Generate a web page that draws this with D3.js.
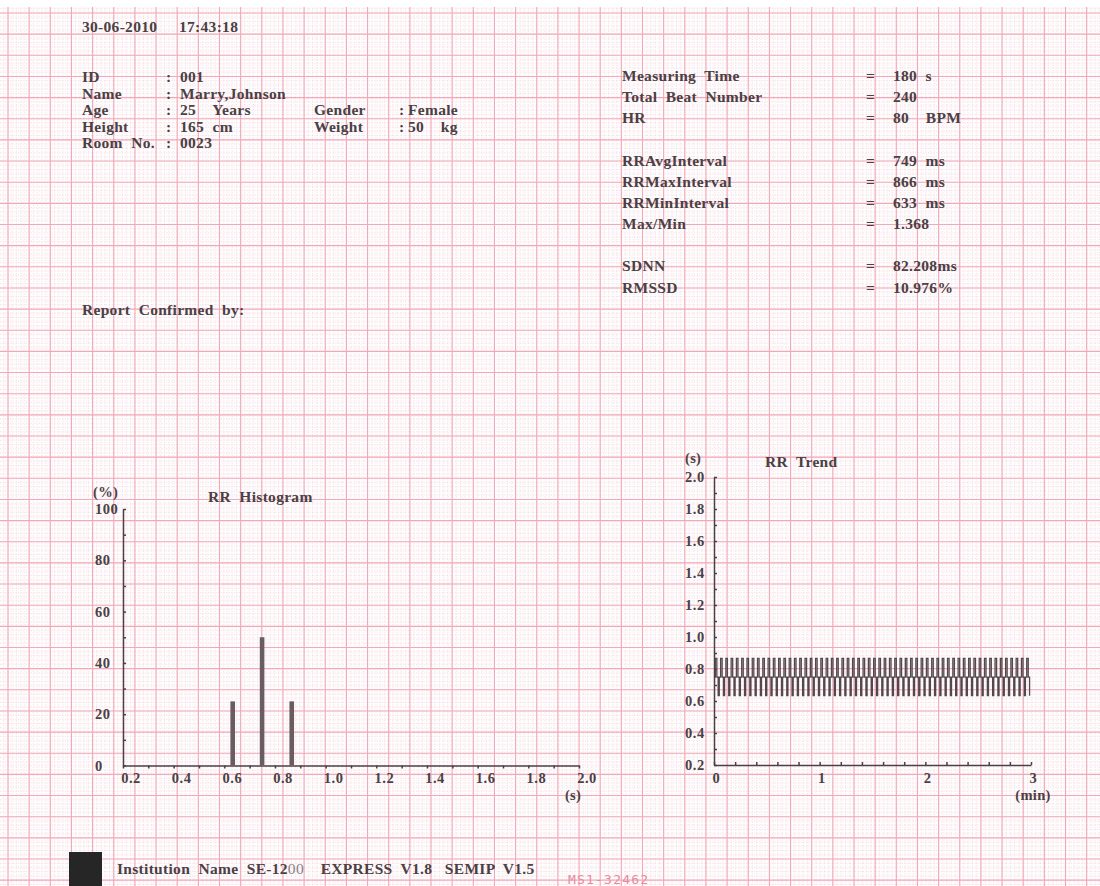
<!DOCTYPE html>
<html>
<head>
<meta charset="utf-8">
<script src="https://cdn.jsdelivr.net/npm/d3@7"></script>
<style>
  body { margin: 0; background: #fff; }
  text { font-family: "Liberation Serif", "Times New Roman", serif; font-weight: bold; fill: #4b4044; white-space: pre; }
</style>
</head>
<body>
<div id="chart"></div>
<script>
// report header
var reportDate = "30-06-2010",
    reportTime = "17:43:18";

var infoLabels = ["ID", "Name", "Age", "Height", "Room  No."],
    infoValues = ["001", "Marry,Johnson", "25    Years", "165  cm", "0023"];

var sideLabels = ["Gender", "Weight"],
    sideValues = ["Female", "50    kg"];

// statistics block (row index leaves gaps between groups)
var statRows = [0, 1, 2, 4, 5, 6, 7, 9, 10],
    statLabels = ["Measuring  Time", "Total  Beat  Number", "HR", "RRAvgInterval", "RRMaxInterval",
                  "RRMinInterval", "Max/Min", "SDNN", "RMSSD"],
    statValues = ["180  s", "240", "80    BPM", "749  ms", "866  ms", "633  ms", "1.368", "82.208ms", "10.976%"];

// RR histogram
var histBins = [0.633, 0.749, 0.866],      // s
    histPercent = [25, 50, 25],
    histXTicks = [0.2, 0.4, 0.6, 0.8, 1.0, 1.2, 1.4, 1.6, 1.8, 2.0],
    histYTicks = [0, 20, 40, 60, 80, 100];

// RR trend, intervals in ms (240 beats)
var rrIntervals = [
    749, 866, 749, 633, 749, 866, 749, 633, 749, 866, 749, 633,
    749, 866, 749, 633, 749, 866, 749, 633, 749, 866, 749, 633,
    749, 866, 749, 633, 749, 866, 749, 633, 749, 866, 749, 633,
    749, 866, 749, 633, 749, 866, 749, 633, 749, 866, 749, 633,
    749, 866, 749, 633, 749, 866, 749, 633, 749, 866, 749, 633,
    749, 866, 749, 633, 749, 866, 749, 633, 749, 866, 749, 633,
    749, 866, 749, 633, 749, 866, 749, 633, 749, 866, 749, 633,
    749, 866, 749, 633, 749, 866, 749, 633, 749, 866, 749, 633,
    749, 866, 749, 633, 749, 866, 749, 633, 749, 866, 749, 633,
    749, 866, 749, 633, 749, 866, 749, 633, 749, 866, 749, 633,
    749, 866, 749, 633, 749, 866, 749, 633, 749, 866, 749, 633,
    749, 866, 749, 633, 749, 866, 749, 633, 749, 866, 749, 633,
    749, 866, 749, 633, 749, 866, 749, 633, 749, 866, 749, 633,
    749, 866, 749, 633, 749, 866, 749, 633, 749, 866, 749, 633,
    749, 866, 749, 633, 749, 866, 749, 633, 749, 866, 749, 633,
    749, 866, 749, 633, 749, 866, 749, 633, 749, 866, 749, 633,
    749, 866, 749, 633, 749, 866, 749, 633, 749, 866, 749, 633,
    749, 866, 749, 633, 749, 866, 749, 633, 749, 866, 749, 633,
    749, 866, 749, 633, 749, 866, 749, 633, 749, 866, 749, 633,
    749, 866, 749, 633, 749, 866, 749, 633, 749, 866, 749, 633
];
var trendXTicks = [0, 1, 2, 3],
    trendYTicks = [0.2, 0.4, 0.6, 0.8, 1.0, 1.2, 1.4, 1.6, 1.8, 2.0];

var w = 1100,
    h = 886,
    ink = "#4b4044";

var svg = d3.select("#chart").append("svg")
    .attr("width", w)
    .attr("height", h);

// ---- ECG paper grid ----
var major = 21.15, minor = major / 5;
var grid = svg.append("g");
grid.append("rect").attr("width", w).attr("height", h).attr("fill", "#fefcfd");

var vMinor = d3.range(8 - major, w, minor),
    hMinor = d3.range(13 - major, h, minor);
grid.selectAll("line.vm").data(vMinor).enter().append("line")
    .attr("x1", function (d) { return d; }).attr("x2", function (d) { return d; })
    .attr("y1", 0).attr("y2", h)
    .attr("stroke", "#e9c2cb").attr("stroke-width", 0.6)
    .attr("stroke-dasharray", "0.8,1.8");
grid.selectAll("line.hm").data(hMinor).enter().append("line")
    .attr("y1", function (d) { return d; }).attr("y2", function (d) { return d; })
    .attr("x1", 0).attr("x2", w)
    .attr("stroke", "#e9c2cb").attr("stroke-width", 0.6)
    .attr("stroke-dasharray", "0.8,1.8");

grid.selectAll("line.vM").data(d3.range(8, w, major)).enter().append("line")
    .attr("x1", function (d) { return d; }).attr("x2", function (d) { return d; })
    .attr("y1", 0).attr("y2", h)
    .attr("stroke", "#f2a8b6").attr("stroke-width", 1.1);
grid.selectAll("line.hM").data(d3.range(13, h, major)).enter().append("line")
    .attr("y1", function (d) { return d; }).attr("y2", function (d) { return d; })
    .attr("x1", 0).attr("x2", w)
    .attr("stroke", "#f2a8b6").attr("stroke-width", 1.1);

grid.append("rect").attr("width", w).attr("height", 7).attr("fill", "#fff");

function label(x, y, s, size, anchor) {
    return svg.append("text")
        .attr("x", x).attr("y", y)
        .attr("font-size", size || 15.5)
        .attr("letter-spacing", 0.3)
        .attr("text-anchor", anchor || "start")
        .text(s);
}

// ---- header text ----
label(82, 32, reportDate);
label(179, 32, reportTime);

infoLabels.forEach(function (s, i) {
    var y = 82 + 16.6 * i;
    label(82, y, s);
    label(166, y, ":");
    label(180, y, infoValues[i]);
});
sideLabels.forEach(function (s, i) {
    var y = 82 + 16.6 * (i + 2);
    label(314, y, s);
    label(399, y, ":");
    label(408, y, sideValues[i]);
});

statLabels.forEach(function (s, i) {
    var y = 81 + 21.15 * statRows[i];
    label(622, y, s);
    label(866, y, "=");
    label(893, y, statValues[i]);
});

label(82, 315, "Report  Confirmed  by:");

// ---- RR histogram ----
var hx = d3.scaleLinear().domain([0.2, 2.0]).range([123, 579]),
    hy = d3.scaleLinear().domain([0, 100]).range([765.5, 509]);

svg.append("g")
    .attr("transform", "translate(0," + hy(0) + ")")
    .call(d3.axisBottom(hx).tickValues(d3.range(2, 21).map(function (d) { return d / 10; }))
        .tickSize(3).tickSizeOuter(0).tickFormat(""))
    .call(function (g) { g.selectAll("path,line").attr("stroke", ink).attr("stroke-width", 1.5); });
svg.append("g")
    .attr("transform", "translate(" + hx(0.2) + ",0)")
    .call(d3.axisRight(hy).tickValues(d3.range(0, 101, 10)).tickSize(3).tickSizeOuter(0).tickFormat(""))
    .call(function (g) { g.selectAll("path,line").attr("stroke", ink).attr("stroke-width", 1.5); });

svg.selectAll("text.hxl").data(histXTicks).enter().append("text")
    .attr("x", function (d) { return hx(d) + 8; })
    .attr("y", 783)
    .attr("font-size", 14.5).attr("letter-spacing", 0.5)
    .attr("text-anchor", "middle")
    .text(function (d) { return d.toFixed(1); });
svg.selectAll("text.hyl").data(histYTicks).enter().append("text")
    .attr("x", 95)
    .attr("y", function (d) { return hy(d) + 5; })
    .attr("font-size", 14.5).attr("letter-spacing", 0.5)
    .text(function (d) { return d; });

svg.selectAll("rect.bar").data(histBins).enter().append("rect")
    .attr("x", function (d) { return hx(d) - 2.3; })
    .attr("width", 4.6)
    .attr("y", function (d, i) { return hy(histPercent[i]); })
    .attr("height", function (d, i) { return hy(0) - hy(histPercent[i]); })
    .attr("fill", "#6a5c60");

label(93, 497, "(%)", 14.5);
label(208, 502, "RR  Histogram");
label(573, 800, "(s)", 14.5, "middle");

// ---- RR trend ----
var tx = d3.scaleLinear().domain([0, 3]).range([714, 1031]),
    ty = d3.scaleLinear().domain([0.2, 2.0]).range([765, 477]);

var beats = [], t = 0;
rrIntervals.forEach(function (rr) {
    beats.push({ t: t / 60000, v: rr / 1000 });
    t += rr;
});

svg.append("path")
    .datum(beats)
    .attr("fill", "none")
    .attr("stroke", "#54484c")
    .attr("stroke-width", 1.3)
    .attr("d", d3.line()
        .curve(d3.curveStepAfter)
        .x(function (d) { return tx(d.t); })
        .y(function (d) { return ty(d.v); }));

svg.append("g")
    .attr("transform", "translate(0," + ty(0.2) + ")")
    .call(d3.axisTop(tx).tickValues(d3.range(0, 16).map(function (d) { return d / 5; }))
        .tickSize(3).tickSizeOuter(0).tickFormat(""))
    .call(function (g) { g.selectAll("path,line").attr("stroke", ink).attr("stroke-width", 1.5); });
svg.append("g")
    .attr("transform", "translate(" + tx(0) + ",0)")
    .call(d3.axisRight(ty).tickValues(d3.range(2, 21).map(function (d) { return d / 10; }))
        .tickSize(3).tickSizeOuter(0).tickFormat(""))
    .call(function (g) { g.selectAll("path,line").attr("stroke", ink).attr("stroke-width", 1.5); });

svg.selectAll("text.txl").data(trendXTicks).enter().append("text")
    .attr("x", function (d) { return tx(d) + 2; })
    .attr("y", 783)
    .attr("font-size", 14.5)
    .attr("text-anchor", "middle")
    .text(function (d) { return d; });
svg.selectAll("text.tyl").data(trendYTicks).enter().append("text")
    .attr("x", 685)
    .attr("y", function (d) { return ty(d) + 5; })
    .attr("font-size", 14.5).attr("letter-spacing", 0.5)
    .text(function (d) { return d.toFixed(1); });

label(685, 463, "(s)", 14.5);
label(765, 467, "RR  Trend");
label(1033, 800, "(min)", 14.5, "middle");

// ---- footer ----
svg.append("rect").attr("x", 69).attr("y", 852).attr("width", 33).attr("height", 34).attr("fill", "#262626");
var foot = label(117, 874, "Institution  Name  SE-12");
foot.append("tspan").attr("font-weight", "normal").style("fill", "#8a8084").text("00");
foot.append("tspan").text("    EXPRESS  V1.8   SEMIP  V1.5");

svg.append("text")
    .attr("x", 568).attr("y", 884)
    .attr("font-size", 13).attr("letter-spacing", 1.2)
    .style("font-family", "'DejaVu Sans Mono', monospace")
    .style("font-weight", "normal")
    .style("fill", "#e88a9c")
    .text("MS1-32462");
</script>
</body>
</html>
